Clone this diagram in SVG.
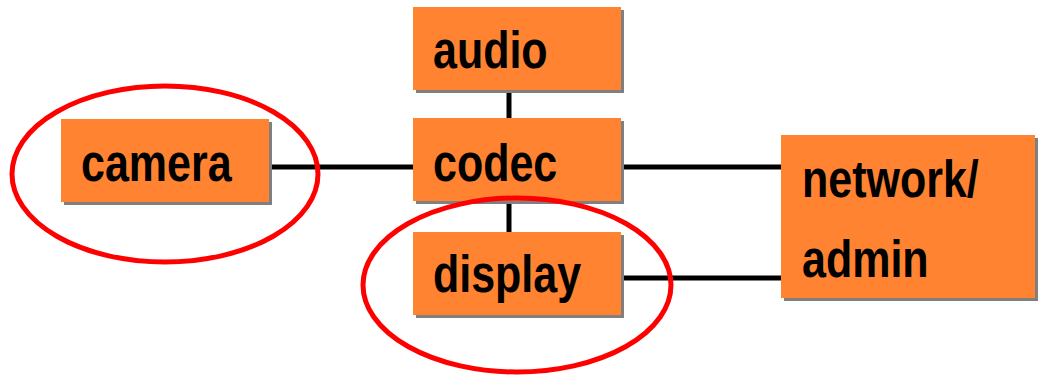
<svg xmlns="http://www.w3.org/2000/svg" width="1040" height="375" viewBox="0 0 1040 375">
<style>
.box{fill:#FF8330}
.sh{fill:#808080}
.t{font-family:"Liberation Sans",Arial,sans-serif;font-weight:bold;font-size:43px;fill:#000}
.ln{stroke:#000;stroke-width:5;fill:none}
.ring{stroke:#FF0000;stroke-width:5;fill:none}
</style>
<rect width="1040" height="375" fill="#fff"/>
<g id="connectors">
<line class="ln" x1="269" y1="167" x2="413" y2="167"/>
<line class="ln" x1="621" y1="167" x2="781" y2="167"/>
<line class="ln" x1="621" y1="278" x2="781" y2="278"/>
<line class="ln" x1="509" y1="90" x2="509" y2="118"/>
<line class="ln" x1="509" y1="201" x2="509" y2="232"/>
</g>
<g id="audio">
<rect class="sh" x="416" y="10" width="208" height="83"/>
<rect class="box" x="413" y="7" width="208" height="83"/>
<text class="t" transform="translate(433,68) scale(1,1.2)">audio</text>
</g>
<g id="camera">
<rect class="sh" x="64" y="122" width="208" height="83"/>
<rect class="box" x="61" y="119" width="208" height="83"/>
<text class="t" transform="translate(81,181) scale(1,1.2)">camera</text>
</g>
<g id="codec">
<rect class="sh" x="416" y="121" width="208" height="83"/>
<rect class="box" x="413" y="118" width="208" height="83"/>
<text class="t" transform="translate(433,181) scale(1,1.2)">codec</text>
</g>
<g id="display">
<rect class="sh" x="416" y="235" width="208" height="83"/>
<rect class="box" x="413" y="232" width="208" height="83"/>
<text class="t" transform="translate(433,292) scale(1,1.2)">display</text>
</g>
<g id="network">
<rect class="sh" x="784" y="138" width="254" height="163"/>
<rect class="box" x="781" y="135" width="254" height="163"/>
<text class="t" transform="translate(802,197) scale(1,1.2)">network/</text>
<text class="t" transform="translate(802,277) scale(1,1.2)">admin</text>
</g>
<g id="highlights">
<ellipse class="ring" cx="165" cy="174" rx="153" ry="88"/>
<ellipse class="ring" cx="517" cy="285" rx="154" ry="87"/>
</g>
</svg>
